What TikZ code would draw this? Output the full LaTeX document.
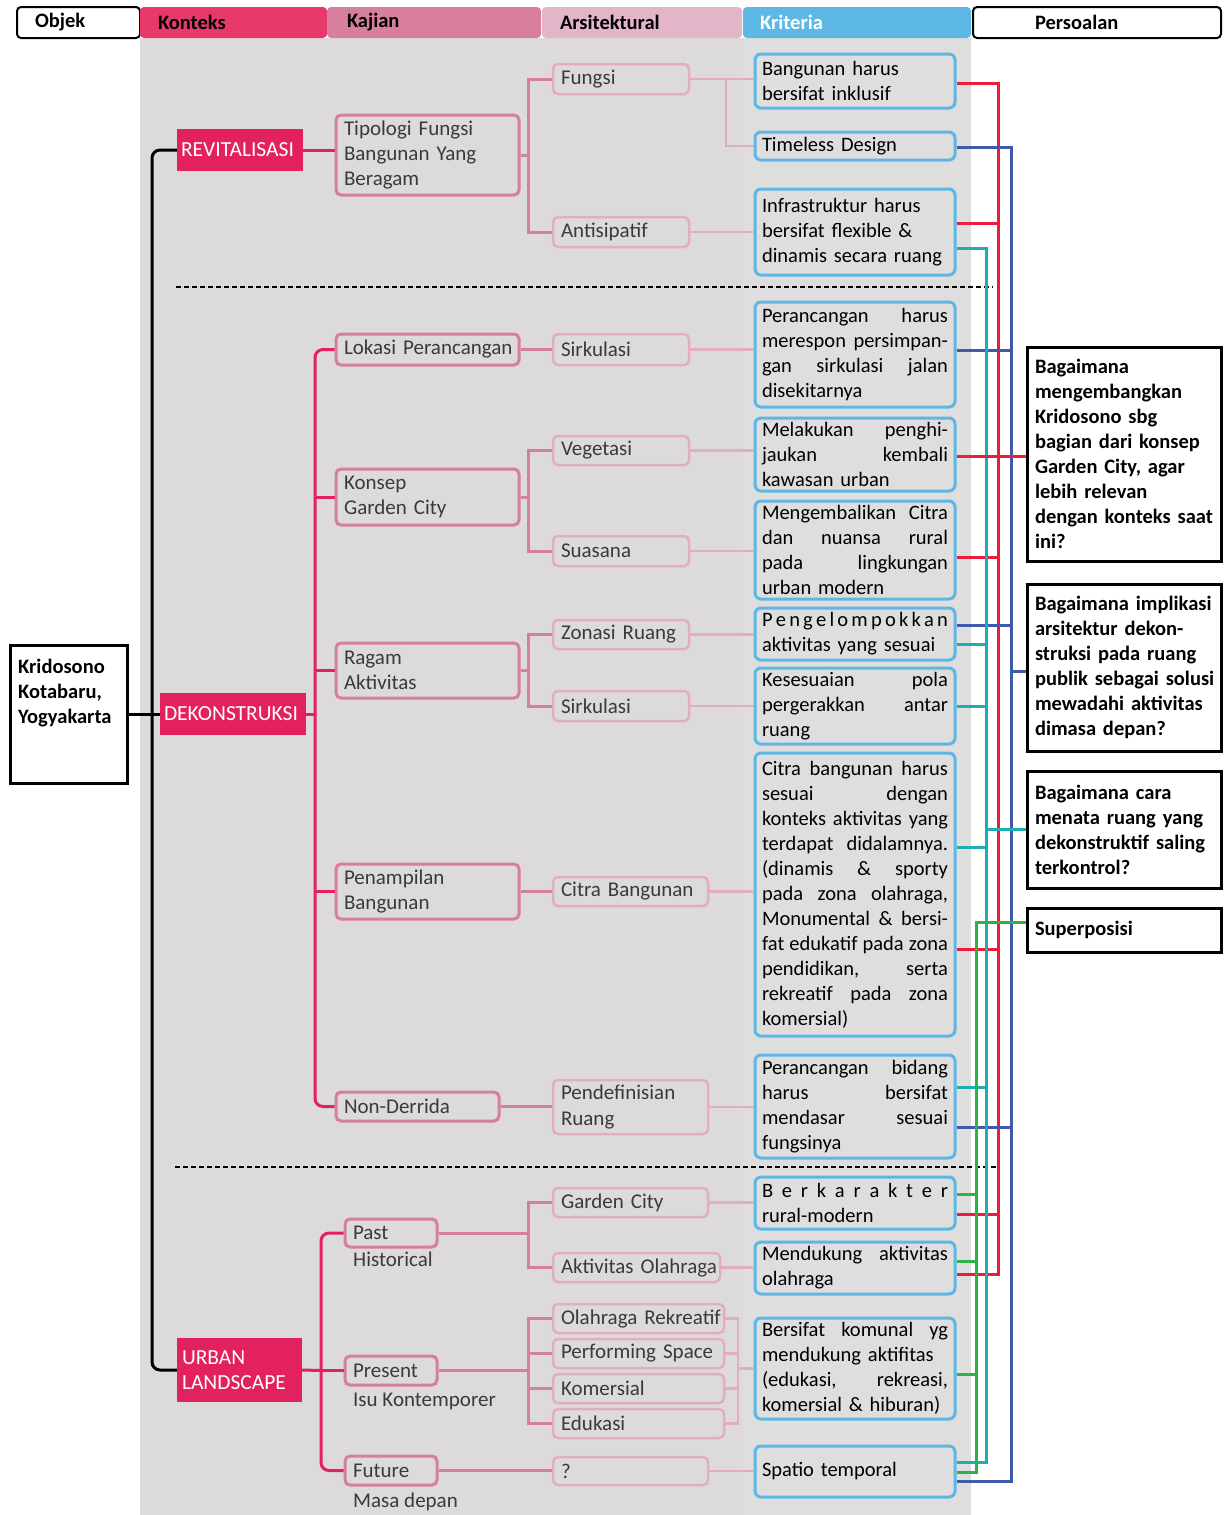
\documentclass[tikz,border=0pt]{standalone}
\usepackage{fontspec}
\setmainfont{Carlito}
\usetikzlibrary{calc}
\definecolor{bgc}{HTML}{DCDADB}
\definecolor{bgk}{HTML}{DEDEDF}
\definecolor{crim}{HTML}{E2215E}
\definecolor{hk}{HTML}{E8396B}
\definecolor{hj}{HTML}{D87E9F}
\definecolor{ha}{HTML}{E2B5C8}
\definecolor{hr}{HTML}{5DB8E6}
\definecolor{kjc}{HTML}{D57E9E}
\definecolor{arc}{HTML}{E2ACC2}
\definecolor{krc}{HTML}{5DB7E4}
\definecolor{rln}{HTML}{EC1C3A}
\definecolor{bln}{HTML}{3E5AA8}
\definecolor{tln}{HTML}{1FADB5}
\definecolor{gln}{HTML}{2BB34A}
\definecolor{lab}{HTML}{3A3A3A}
\newlength\kw \setlength\kw{186pt}
\newcommand\Jl[1]{\leavevmode\hbox to\kw{\spaceskip=4.6pt plus 1fil minus 1.5pt\relax #1}}
\newcommand\Ln[1]{\mbox{#1}}
\newcommand\bx[8]{%
 \pgfmathsetmacro\bxw{#5-#3}%
 \pgfmathsetmacro\bxh{#6-#4}%
 \pgfmathsetmacro\bxcx{(#3+#5)/2}%
 \pgfmathsetmacro\bxcy{(#4+#6)/2}%
 \pgfmathsetmacro\bxtw{#5-#3-2*#7}%
 \node[#2, inner xsep=#7pt, inner ysep=0pt, minimum width={\bxw pt}, minimum height={\bxh pt}, text width={\bxtw pt}, align=left] (#1) at (\bxcx,\bxcy) {#8};}
\tikzset{
 hdr/.style={rounded corners=4pt, font=\bfseries\fontsize{20.5}{25}\selectfont},
 kjb/.style={draw=kjc, line width=3pt, rounded corners=5pt, fill=bgc, text=lab, font=\fontsize{21}{25}\selectfont},
 arb/.style={draw=arc, line width=2.5pt, rounded corners=5pt, fill=bgc, text=lab, font=\fontsize{21}{25.5}\selectfont},
 krb/.style={draw=krc, line width=3pt, rounded corners=6pt, fill=bgk, text=black, font=\fontsize{20.5}{25}\selectfont},
 qbox/.style={draw=black, line width=3pt, fill=white, font=\bfseries\fontsize{20.5}{25}\selectfont},
 ktx/.style={fill=crim, text=white, font=\fontsize{21.5}{25}\selectfont},
 lbl/.style={text=lab, font=\fontsize{21}{25}\selectfont, inner sep=0pt},
 blkl/.style={black, line width=3pt},
 crl/.style={crim, line width=3pt},
 kjl/.style={kjc, line width=3pt},
 arl/.style={arc, line width=2.5pt},
 lnr/.style={rln, line width=3pt},
 lnb/.style={bln, line width=3pt},
 lnt/.style={tln, line width=3pt},
 lng/.style={gln, line width=3pt},
 sepl/.style={black, line width=1.8pt, dash pattern=on 5pt off 3pt}
}
\begin{document}
\begin{tikzpicture}[x=1pt,y=-1pt]
\useasboundingbox (0,0) rectangle (1229,1515);
\fill[bgc] (140,38) rectangle (971,1515);
\fill[bgk] (743,38) rectangle (971,1515);
% headers
\bx{hobj}{hdr, draw=black, line width=2pt, fill=white}{17}{7}{140}{38}{18}{Objek}
\bx{hkon}{hdr, fill=hk}{140}{7}{327}{38}{18}{Konteks}
\bx{hkaj}{hdr, fill=hj}{327}{7}{541}{38}{20}{Kajian}
\bx{hars}{hdr, fill=ha}{542}{7}{742}{38}{18}{Arsitektural}
\bx{hkri}{hdr, fill=hr, text=white}{743}{7}{971}{38}{17}{Kriteria}
\bx{hper}{hdr, draw=black, line width=2pt, fill=white}{973}{7}{1221}{38}{62}{Persoalan}
% objek
\bx{krid}{qbox}{10}{645}{127}{783}{8}{}
\node[anchor=north west, inner sep=0pt, align=left, font=\bfseries\fontsize{20.5}{25}\selectfont] (kridt) at (18,659) {Kridosono\\Kotabaru,\\Yogyakarta};
% konteks
\bx{revit}{ktx}{177}{129}{303}{171}{4}{\Ln{REVITALISASI}}
\bx{dekon}{ktx}{160}{693}{306}{735}{4}{\Ln{DEKONSTRUKSI}}
\bx{urban}{ktx}{177}{1338}{302}{1402}{5}{\Ln{URBAN}\\\Ln{LANDSCAPE}}
% kajian
\bx{tip}{kjb}{336}{115}{519}{195}{8}{\Ln{Tipologi Fungsi}\\\Ln{Bangunan Yang}\\\Ln{Beragam}}
\bx{lok}{kjb}{336}{334}{519}{365}{8}{\Ln{Lokasi Perancangan}}
\bx{konsep}{kjb}{336}{469}{519}{525}{8}{\Ln{Konsep}\\\Ln{Garden City}}
\bx{ragam}{kjb}{336}{643}{519}{698}{8}{\Ln{Ragam}\\\Ln{Aktivitas}}
\bx{pen}{kjb}{336}{864}{519}{919}{8}{\Ln{Penampilan}\\\Ln{Bangunan}}
\bx{nond}{kjb}{336}{1092}{499}{1121}{8}{\Ln{Non-Derrida}}
\bx{past}{kjb}{345}{1219}{437}{1247}{8}{\Ln{Past}}
\bx{present}{kjb}{345}{1356}{437}{1385}{8}{\Ln{Present}}
\bx{future}{kjb}{345}{1456}{437}{1485}{8}{\Ln{Future}}
\node[lbl, anchor=west] (hist) at (353,1259) {Historical};
\node[lbl, anchor=west] (isu) at (353,1401) {Isu Kontemporer};
\node[lbl, anchor=west] (masa) at (353,1502) {Masa depan};
% arsitektural
\bx{fungsi}{arb}{553}{64}{689}{94}{8}{\Ln{Fungsi}}
\bx{antis}{arb}{553}{217}{689}{247}{8}{\Ln{Antisipatif}}
\bx{sirka}{arb}{553}{334}{689}{365}{8}{\Ln{Sirkulasi}}
\bx{vege}{arb}{553}{436}{689}{465}{8}{\Ln{Vegetasi}}
\bx{suas}{arb}{553}{536}{689}{566}{8}{\Ln{Suasana}}
\bx{zon}{arb}{553}{620}{689}{649}{8}{\Ln{Zonasi Ruang}}
\bx{sirkb}{arb}{553}{691}{689}{721}{8}{\Ln{Sirkulasi}}
\bx{citra}{arb}{553}{877}{708}{906}{8}{\Ln{Citra Bangunan}}
\bx{pendef}{arb}{553}{1080}{708}{1134}{8}{\Ln{Pendefinisian}\\\Ln{Ruang}}
\bx{garden}{arb}{553}{1188}{708}{1217}{8}{\Ln{Garden City}}
\bx{aktiv}{arb}{553}{1253}{720}{1282}{8}{\Ln{Aktivitas Olahraga}}
\bx{olah}{arb}{553}{1304}{724}{1333}{8}{\Ln{Olahraga Rekreatif}}
\bx{perf}{arb}{553}{1339}{724}{1368}{8}{\Ln{Performing Space}}
\bx{kom}{arb}{553}{1374}{724}{1403}{8}{\Ln{Komersial}}
\bx{edu}{arb}{553}{1409}{724}{1438}{8}{\Ln{Edukasi}}
\bx{qm}{arb}{553}{1457}{708}{1485}{8}{\Ln{?}}
% kriteria
\bx{k1}{krb}{755}{54}{955}{108}{7}{\Ln{Bangunan harus}\\\Ln{bersifat inklusif}}
\bx{k2}{krb}{755}{132}{955}{160}{7}{\Ln{Timeless Design}}
\bx{k3}{krb}{755}{189}{955}{275}{7}{\Ln{Infrastruktur harus}\\\Ln{bersifat flexible \&}\\\Ln{dinamis secara ruang}}
\bx{k4}{krb}{755}{302}{955}{407}{7}{\Jl{Perancangan harus}\\\Jl{merespon persimpan-}\\\Jl{gan sirkulasi jalan}\\\Ln{disekitarnya}}
\bx{k5}{krb}{755}{418}{955}{491}{7}{\Jl{Melakukan penghi-}\\\Jl{jaukan kembali}\\\Ln{kawasan urban}}
\bx{k6}{krb}{755}{501}{955}{599}{7}{\Jl{Mengembalikan Citra}\\\Jl{dan nuansa rural}\\\Jl{pada lingkungan}\\\Ln{urban modern}}
\bx{k7}{krb}{755}{608}{955}{660}{7}{\Jl{P\hfill e\hfill n\hfill g\hfill e\hfill l\hfill o\hfill m\hfill p\hfill o\hfill k\hfill k\hfill a\hfill n}\\\Ln{aktivitas yang sesuai}}
\bx{k8}{krb}{755}{668}{955}{744}{7}{\Jl{Kesesuaian pola}\\\Jl{pergerakkan antar}\\\Ln{ruang}}
\bx{k9}{krb}{755}{753}{955}{1036}{7}{\Jl{Citra bangunan harus}\\\Jl{sesuai dengan}\\\Jl{konteks aktivitas yang}\\\Jl{terdapat didalamnya.}\\\Jl{(dinamis \& sporty}\\\Jl{pada zona olahraga,}\\\Jl{Monumental \& bersi-}\\\Jl{fat edukatif pada zona}\\\Jl{pendidikan, serta}\\\Jl{rekreatif pada zona}\\\Ln{komersial)}}
\bx{k10}{krb}{755}{1055}{955}{1158}{7}{\Jl{Perancangan bidang}\\\Jl{harus bersifat}\\\Jl{mendasar sesuai}\\\Ln{fungsinya}}
\bx{k11}{krb}{755}{1177}{955}{1229}{7}{\Jl{B\hfill e\hfill r\hfill k\hfill a\hfill r\hfill a\hfill k\hfill t\hfill e\hfill r}\\\Ln{rural-modern}}
\bx{k12}{krb}{755}{1242}{955}{1294}{7}{\Jl{Mendukung aktivitas}\\\Ln{olahraga}}
\bx{k13}{krb}{755}{1318}{955}{1419}{7}{\Jl{Bersifat komunal yg}\\\Ln{mendukung aktifitas}\\\Jl{(edukasi, rekreasi,}\\\Ln{komersial \& hiburan)}}
\bx{k14}{krb}{755}{1446}{955}{1497}{7}{\Ln{Spatio temporal}}
% persoalan
\bx{q1}{qbox}{1027}{347}{1221}{561}{8}{\Ln{Bagaimana}\\\Ln{mengembangkan}\\\Ln{Kridosono sbg}\\\Ln{bagian dari konsep}\\\Ln{Garden City, agar}\\\Ln{lebih relevan}\\\Ln{dengan konteks saat}\\\Ln{ini?}}
\bx{q2}{qbox}{1027}{584}{1221}{751}{8}{\Ln{Bagaimana implikasi}\\\Ln{arsitektur dekon-}\\\Ln{struksi pada ruang}\\\Ln{publik sebagai solusi}\\\Ln{mewadahi aktivitas}\\\Ln{dimasa depan?}}
\bx{q3}{qbox}{1027}{771}{1221}{888}{8}{\Ln{Bagaimana cara}\\\Ln{menata ruang yang}\\\Ln{dekonstruktif saling}\\\Ln{terkontrol?}}
\bx{q4}{qbox}{1027}{908}{1221}{952}{8}{\Ln{Superposisi}}
% separators
\draw[sepl] (176,287) -- (993,287);
\draw[sepl] (175,1167) -- (998,1167);
% objek -> konteks
\coordinate (bt) at (152,714);
\draw[blkl, rounded corners=8pt] (revit.west) -| (bt) |- (urban.west);
\draw[blkl] (krid.east) -- (dekon.west);
% konteks -> kajian
\draw[crl] (revit.east) -- (revit.east -| tip.west);
\coordinate (dt) at (315,714);
\draw[crl] (dekon.east) -- (dt);
\draw[crl, rounded corners=8pt] (lok.west) -| (dt) |- (nond.west);
\draw[crl] (konsep.west) -- (konsep.west -| dt);
\draw[crl] (ragam.west) -- (ragam.west -| dt);
\draw[crl] (pen.west) -- (pen.west -| dt);
\coordinate (ut) at (321,1370.5);
\draw[crl] (urban.east) -- (ut);
\draw[crl, rounded corners=8pt] (past.west) -| (ut) |- (future.west);
\draw[crl] (present.west) -- (ut);
% kajian -> arsitektural
\coordinate (ta) at (528,155);
\draw[kjl] (tip.east) -- (ta);
\draw[kjl] (fungsi.west) -| (ta) |- (antis.west);
\draw[kjl] (lok.east) -- (lok.east -| sirka.west);
\coordinate (tb) at (528,497);
\draw[kjl] (konsep.east) -- (tb);
\draw[kjl] (vege.west) -| (tb) |- (suas.west);
\coordinate (tc) at (528,670.5);
\draw[kjl] (ragam.east) -- (tc);
\draw[kjl] (zon.west) -| (tc) |- (sirkb.west);
\draw[kjl] (pen.east) -- (pen.east -| citra.west);
\draw[kjl] (nond.east) -- (nond.east -| pendef.west);
\coordinate (td) at (528,1233);
\draw[kjl] (past.east) -- (td);
\draw[kjl] (garden.west) -| (td) |- (aktiv.west);
\coordinate (te) at (528,1370.5);
\draw[kjl] (present.east) -- (te);
\draw[kjl] (olah.west) -| (te) |- (edu.west);
\draw[kjl] (perf.west) -- (perf.west -| te);
\draw[kjl] (kom.west) -- (kom.west -| te);
\draw[kjl] (future.east) -- (future.east -| qm.west);
% arsitektural -> kriteria
\draw[arl] (fungsi.east) -- (fungsi.east -| k1.west);
\coordinate (fb) at (726,79);
\draw[arl] (fb) |- (k2.west);
\draw[arl] (antis.east) -- (antis.east -| k3.west);
\draw[arl] (sirka.east) -- (sirka.east -| k4.west);
\draw[arl] (vege.east) -- (vege.east -| k5.west);
\draw[arl] (suas.east) -- (suas.east -| k6.west);
\draw[arl] (zon.east) -- (zon.east -| k7.west);
\draw[arl] (sirkb.east) -- (sirkb.east -| k8.west);
\draw[arl] (citra.east) -- (citra.east -| k9.west);
\draw[arl] (pendef.east) -- (pendef.east -| k10.west);
\draw[arl] (garden.east) -- (garden.east -| k11.west);
\draw[arl] (aktiv.east) -- (aktiv.east -| k12.west);
\coordinate (bb) at (738,1368.5);
\draw[arl] (olah.east) -| (bb |- edu.east) -- (edu.east);
\draw[arl] (perf.east) -- (perf.east -| bb);
\draw[arl] (kom.east) -- (kom.east -| bb);
\draw[arl] (bb) -- (bb -| k13.west);
\draw[arl] (qm.east) -- (qm.east -| k14.west);
% red -> q1
\coordinate (rT) at (998,83); \coordinate (rB) at (998,1274);
\draw[lnr] (k1.east |- rT) -- (rT) -- (rB) -- (k12.east |- rB);
\draw[lnr] (k3.east |- 0,223) -- (rT |- 0,223);
\draw[lnr] (k6.east |- 0,557) -- (rT |- 0,557);
\draw[lnr] (k9.east |- 0,949) -- (rT |- 0,949);
\draw[lnr] (k11.east |- 0,1214) -- (rT |- 0,1214);
% blue -> q2
\coordinate (bT) at (1011,147); \coordinate (bB) at (1011,1481);
\draw[lnb] (k2.east |- bT) -- (bT) -- (bB) -- (k14.east |- bB);
\draw[lnb] (k4.east |- 0,350) -- (bT |- 0,350);
\draw[lnb] (k7.east |- 0,625) -- (bT |- 0,625);
\draw[lnb] (k10.east |- 0,1127) -- (bT |- 0,1127);
% teal -> q3
\coordinate (tT) at (986,248); \coordinate (tB) at (986,1462);
\draw[lnt] (k3.east |- tT) -- (tT) -- (tB) -- (k14.east |- tB);
\draw[lnt] (k7.east |- 0,644) -- (tT |- 0,644);
\draw[lnt] (k8.east |- 0,706) -- (tT |- 0,706);
\draw[lnt] (k9.east |- 0,847) -- (tT |- 0,847);
\draw[lnt] (k10.east |- 0,1087) -- (tT |- 0,1087);
% green -> q4
\coordinate (gT) at (976,922); \coordinate (gB) at (976,1472);
\draw[lng] (q4.west |- gT) -- (gT) -- (gB) -- (k14.east |- gB);
\draw[lng] (k11.east |- 0,1194) -- (gT |- 0,1194);
\draw[lng] (k12.east |- 0,1261) -- (gT |- 0,1261);
\draw[lng] (k13.east |- 0,1374) -- (gT |- 0,1374);
% links to questions
\draw[lnr] (k5.east |- 0,456) -- (q1.west |- 0,456);
\draw[lnb] (bT |- 0,671) -- (q2.west |- 0,671);
\draw[lnt] (tT |- 0,829) -- (q3.west |- 0,829);
\end{tikzpicture}
\end{document}
